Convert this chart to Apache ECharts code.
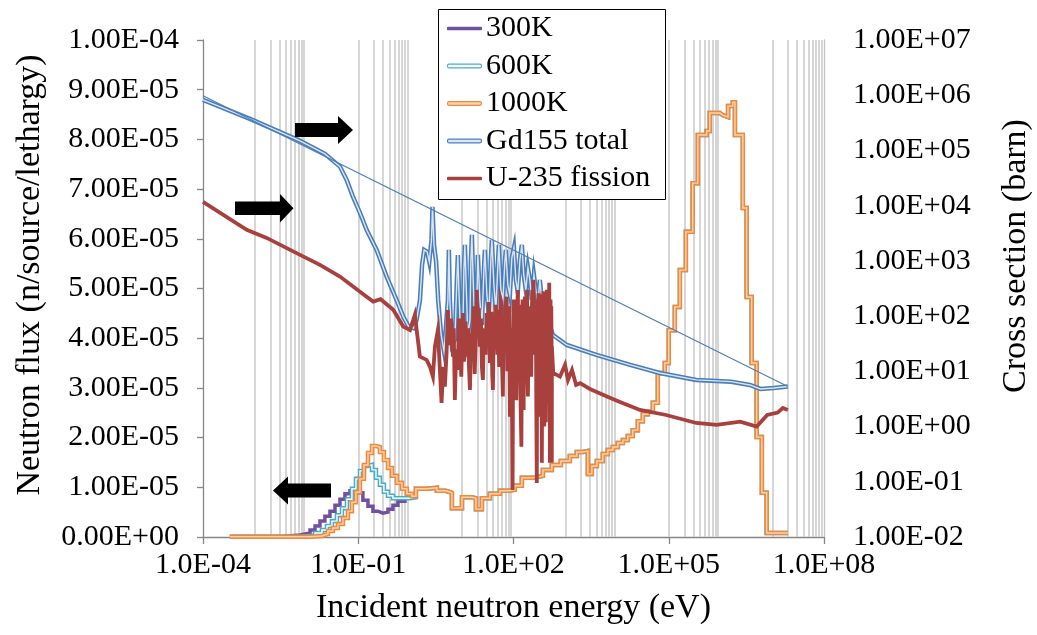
<!DOCTYPE html>
<html>
<head>
<meta charset="utf-8">
<title>Neutron flux and cross sections</title>
<script src="https://cdn.jsdelivr.net/npm/echarts@6/dist/echarts.min.js"></script>
<style>
  html, body { margin: 0; padding: 0; background: #ffffff; }
  #chart { width: 1037px; height: 635px; }
</style>
</head>
<body>
<div id="chart"></div>
<script>
// ---- data ---------------------------------------------------------------
// Group flux per unit lethargy: [lower group energy (eV), flux (n/source/lethargy)]
const flux300KThermal = [
  [3.3e-4, 1e-7], [3.5e-3, 4e-7], [7.5e-3, 8e-7], [1.17e-2, 1.4e-6], [1.46e-2, 2.2e-6],
  [1.82e-2, 3.2e-6], [2.27e-2, 4.2e-6], [2.84e-2, 5.2e-6], [3.55e-2, 6.4e-6], [4.43e-2, 7.6e-6],
  [5.53e-2, 8.7e-6], [6.91e-2, 9.3e-6], [8.63e-2, 9.5e-6], [9.86e-2, 8.9e-6], [0.123, 7.4e-6],
  [0.154, 6.2e-6], [0.192, 5.2e-6], [0.24, 4.8e-6], [0.30, 5.0e-6], [0.375, 5.6e-6],
  [0.468, 6.4e-6], [0.584, 7.2e-6], [0.798, 7.8e-6], [0.996, 8.0e-6]
];
const flux600KThermal = [
  [3.3e-4, 5e-8], [7.5e-3, 3e-7], [1.46e-2, 8e-7], [1.99e-2, 1.4e-6], [2.49e-2, 2.2e-6],
  [3.10e-2, 3.2e-6], [3.88e-2, 4.4e-6], [4.84e-2, 5.8e-6], [6.05e-2, 7.6e-6], [7.55e-2, 9.7e-6],
  [9.02e-2, 1.17e-5], [0.108, 1.33e-5], [0.129, 1.43e-5], [0.154, 1.45e-5], [0.184, 1.35e-5],
  [0.22, 1.19e-5], [0.262, 1.05e-5], [0.313, 9.1e-6], [0.375, 8.3e-6], [0.468, 7.8e-6],
  [0.639, 7.8e-6], [0.996, 8.0e-6]
];
const flux1000KThermal = [
  [3.3e-4, 5e-8], [1.17e-2, 2e-7], [1.99e-2, 6e-7], [2.60e-2, 1.2e-6], [3.24e-2, 1.8e-6],
  [4.05e-2, 2.6e-6], [5.06e-2, 3.8e-6], [6.32e-2, 5.2e-6], [7.55e-2, 7.0e-6], [9.02e-2, 9.0e-6],
  [0.108, 1.17e-5], [0.129, 1.45e-5], [0.154, 1.69e-5], [0.184, 1.83e-5], [0.22, 1.81e-5],
  [0.262, 1.71e-5], [0.313, 1.55e-5], [0.375, 1.39e-5], [0.448, 1.23e-5], [0.559, 1.09e-5],
  [0.698, 9.7e-6], [0.872, 8.7e-6], [1.09, 8.2e-6]
];
// Above ~1 eV the three temperatures give the same group flux
const fluxEpiFast = [
  [1.30, 9.7e-6], [2.12, 9.9e-6], [3.31, 9.3e-6], [4.94, 8.9e-6], [6.45, 5.8e-6],
  [10.1, 8.0e-6], [15.7, 7.8e-6], [18.8, 5.6e-6], [24.5, 7.8e-6], [35.0, 8.7e-6],
  [54.6, 9.3e-6], [78, 9.5e-6], [106, 1.03e-5], [145, 1.19e-5], [237, 1.23e-5],
  [370, 1.35e-5], [551, 1.45e-5], [822, 1.53e-5], [1227, 1.63e-5], [1675, 1.71e-5],
  [2188, 1.73e-5], [2735, 1.27e-5], [3267, 1.43e-5], [4080, 1.53e-5], [5325, 1.67e-5],
  [6650, 1.75e-5], [8310, 1.81e-5], [1.04e4, 1.89e-5], [1.30e4, 1.95e-5], [1.62e4, 2.03e-5],
  [2.02e4, 2.15e-5], [2.53e4, 2.33e-5], [3.16e4, 2.47e-5], [3.94e4, 2.52e-5], [4.93e4, 2.70e-5],
  [6.15e4, 3.30e-5], [8.4e4, 3.50e-5], [1.0e5, 4.16e-5], [1.31e5, 4.63e-5], [1.64e5, 5.37e-5],
  [2.14e5, 6.14e-5], [2.9e5, 7.12e-5], [3.65e5, 8.09e-5], [5.4e5, 8.17e-5], [6.2e5, 8.53e-5],
  [9.7e5, 8.49e-5], [1.1e6, 8.45e-5], [1.4e6, 8.67e-5], [1.73e6, 8.75e-5], [1.9e6, 8.09e-5],
  [2.7e6, 6.62e-5], [3.2e6, 4.83e-5], [4.0e6, 3.50e-5], [5.0e6, 2.01e-5], [6.3e6, 8.9e-6],
  [7.8e6, 8e-7], [2.0e7, 8e-7]
];

// Gd-155 total cross section: [energy (eV), barn]
const gd155Total = [
  [1e-4, 8.26e5], [8.1e-4, 3.73e5], [7.5e-3, 1.49e5], [2.27e-2, 8.67e4], [4.43e-2, 5.1e4],
  [5.97e-2, 2.93e4], [7.89e-2, 1.46e4], [0.108, 7410], [0.145, 3650], [0.227, 1580],
  [0.353, 520], [0.55, 196], [0.74, 98], [0.94, 64.6], [1.18, 60.4],
  [1.34, 85], [1.56, 196], [1.71, 847], [1.88, 1580], [2.15, 1460], [2.36, 960], [2.6, 2400],
  [2.72, 9500], [2.91, 1950], [3.2, 960], [3.5, 196], [4.0, 45.6], [4.56, 22.5],
  [4.94, 22.5], [5.40, 196], [5.64, 1580], [5.90, 196], [6.45, 30], [7.36, 37], [8.05, 453],
  [8.41, 1280], [8.80, 298], [9.62, 37], [10.5, 56], [11.0, 687], [11.5, 1950], [12.0, 557],
  [13.1, 45.6], [14.4, 85], [15.0, 960], [15.7, 2960], [16.4, 687], [17.9, 56], [19.6, 196],
  [20.5, 1280], [22.4, 196], [24.5, 69], [26.8, 687], [28.0, 1580], [30.6, 242], [33.4, 105],
  [36.5, 1040], [38.2, 2400], [41.8, 367], [45.6, 129], [49.9, 847], [52.1, 1950], [57.0, 298],
  [62.3, 196], [68.1, 960], [71.1, 1580], [77.8, 367], [85.1, 242], [92.9, 1130], [102, 1720],
  [111, 453], [121, 274], [133, 1040], [145, 1950], [158, 557], [173, 298], [190, 747],
  [207, 453], [226, 196], [248, 557], [270, 298], [296, 160], [323, 453], [353, 196],
  [404, 129], [461, 85], [577, 45.6],
  [1070, 30], [4000, 19.8], [1.8e4, 13.1], [6.7e4, 9.35], [3.4e5, 7.0], [1.6e6, 6.5],
  [3.7e6, 5.67], [5.9e6, 4.8], [1.07e7, 5.0], [2.0e7, 5.3]
];
// 1/v-like guide through the Gd-155 curve end points
const gd155Guide = [[1e-4, 9.75e5], [2.0e7, 5.3]];

// U-235 fission cross section: [energy (eV), barn]
const u235Fission = [
  [1e-4, 1.17e4], [7e-4, 3650], [1.7e-3, 2610], [7.5e-3, 1285], [1.82e-2, 847], [4.43e-2, 520],
  [0.145, 225], [0.195, 183], [0.27, 202], [0.475, 130], [0.74, 64.6], [1.0, 56],
  [1.24, 105], [1.42, 37], [1.55, 18.5], [2.09, 16.1], [2.42, 12.2], [2.77, 8.0], [3.03, 28],
  [3.46, 56], [3.78, 10.6],
  [4.07, 2.68], [4.4, 12], [4.72, 5.3], [5.09, 21.5], [5.40, 129], [5.65, 30], [5.90, 42.5],
  [6.2, 90], [6.75, 18.5], [7.0, 60], [7.36, 3.03], [7.8, 25], [8.41, 10.6], [8.8, 90],
  [9.2, 37], [9.8, 8], [10.5, 114],
  [11.0, 15], [11.4, 20], [11.9, 80], [12.4, 18.5], [13.3, 60], [13.8, 12], [14.4, 4.6],
  [15.3, 40], [16.4, 56], [17.1, 150], [17.8, 9], [18.6, 35], [19.4, 298], [20.5, 60],
  [21.4, 140], [22.4, 28], [23.5, 90], [24.5, 12], [25.6, 7.0], [26.7, 45], [27.8, 60],
  [29, 20], [30.2, 114], [32, 35], [33.5, 180], [35.0, 14.2], [36.2, 50], [37.5, 120],
  [38.8, 9], [40, 4.6], [41.7, 70], [43.5, 40], [45, 160], [47.1, 85], [49, 20], [51, 130],
  [52.8, 12], [54.6, 28], [56.3, 200], [58, 180], [60, 15], [62.3, 3.5], [64.5, 90], [67, 40],
  [70, 140], [73.5, 225], [76, 10], [79, 30], [82, 150], [85.1, 1.51], [87.5, 40], [90, 60],
  [93, 8], [96, 0.071], [98.5, 60],
  [101, 200], [103.5, 25], [106, 14.2], [109, 120], [113, 3.0], [117, 80], [121, 298],
  [125, 20], [128, 160], [131, 60], [136, 4], [142, 0.43], [146, 90], [150, 200], [153, 20],
  [157, 2], [161, 110], [166, 225], [172, 12], [178, 90], [183, 300], [187, 7], [190, 3.5],
  [196, 60], [205, 150], [212, 30], [220, 8], [226, 120], [232, 300], [238, 20], [244, 453],
  [252, 40], [262, 30], [270, 200], [276, 2], [282, 0.095], [288, 60], [296, 114], [303, 260],
  [310, 12], [318, 1.5], [325, 250], [332, 40], [340, 5], [346, 180], [353, 0.22], [361, 60],
  [370, 150], [378, 280], [385, 20], [394, 1.0], [404, 225], [412, 30], [420, 1.2], [430, 90],
  [440, 300], [450, 25], [461, 225], [470, 2.5], [480, 15], [485, 150], [490, 400], [497, 30],
  [505, 0.22], [512, 100], [520, 200], [525, 12], [530, 3], [537, 150], [545, 28], [550, 0.22],
  [552, 28], [585, 9.35],
  [790, 8.0], [990, 13.1], [1130, 7.0], [1350, 10.6], [1620, 5.67], [1940, 6.1], [3000, 4.8],
  [6400, 3.5], [1.14e4, 2.79], [2.78e4, 2.0], [8.9e4, 1.62], [3.4e5, 1.16], [8.4e5, 1.07],
  [2.4e6, 1.23], [5.0e6, 1.0], [8.0e6, 1.62], [1.27e7, 1.79], [1.6e7, 2.17], [2.0e7, 2.0]
];

// Axis ticks (decade exponents)
const xTickExponents = [-4, -1, 2, 5, 8];
const gridDecades = [-3, -1, 1, 3, 5, 7];

// ---- helpers -------------------------------------------------------------
const FONT = '"Liberation Serif", "Times New Roman", serif';
const log10 = Math.log10;

function sci(v, digits) {
  const [m, ex] = v.toExponential(digits).split('e');
  const n = parseInt(ex, 10);
  return m + 'E' + (n < 0 ? '-' : '+') + String(Math.abs(n)).padStart(2, '0');
}
function decadeLabel(exp, digits) {
  const n = Math.round(exp);
  return (1).toFixed(digits) + 'E' + (n < 0 ? '-' : '+') + String(Math.abs(n)).padStart(2, '0');
}
const fluxPoints = arr => arr.map(([e, v]) => [log10(e), v]);
const xsPoints = arr => arr.map(([e, s]) => [log10(e), log10(s)]);

const gridValues = [];
gridDecades.forEach(k => { for (let n = 1; n <= 9; n++) gridValues.push(log10(n) + k); });

const COLORS = {
  k300: '#7050a0', k600: '#4bacc6', k1000: '#ef8a3c', k1000In: '#fbd3b0',
  gd: '#4a7ebb', gdIn: '#dce6f2', u235: '#a8403d'
};

function line(name, data, color, width, yAxisIndex, step, z) {
  return {
    type: 'line', name, data, yAxisIndex, step: step ? 'end' : false,
    showSymbol: false, symbol: 'none', silent: true, z: z || 2,
    lineStyle: { color, width, join: 'miter' }, itemStyle: { color },
    emphasis: { disabled: true }
  };
}

const series = [
  {
    type: 'line', name: 'gridlines', data: [], silent: true, z: 0,
    markLine: {
      silent: true, z: 1, symbol: ['none', 'none'], label: { show: false },
      lineStyle: { color: '#c8c8c8', width: 1.5, type: 'solid' },
      emphasis: { disabled: true }, animation: false,
      data: gridValues.map(v => ({ xAxis: v }))
    }
  },
  line('300K', fluxPoints(flux300KThermal.concat(fluxEpiFast)), COLORS.k300, 3.5, 0, true, 2),
  line('600K', fluxPoints(flux600KThermal.concat(fluxEpiFast)), COLORS.k600, 4.5, 0, true, 3),
  line('600K inner', fluxPoints(flux600KThermal.concat(fluxEpiFast)), '#ffffff', 1.4, 0, true, 3),
  line('1000K', fluxPoints(flux1000KThermal.concat(fluxEpiFast)), COLORS.k1000, 4.5, 0, true, 4),
  line('1000K inner', fluxPoints(flux1000KThermal.concat(fluxEpiFast)), COLORS.k1000In, 1.4, 0, true, 4),
  line('Gd155 total', xsPoints(gd155Total), COLORS.gd, 4.5, 1, false, 5),
  line('Gd155 inner', xsPoints(gd155Total), COLORS.gdIn, 1.4, 1, false, 5),
  line('Gd155 guide', xsPoints(gd155Guide), COLORS.gd, 1.2, 1, false, 5),
  line('U-235 fission', xsPoints(u235Fission), COLORS.u235, 3.8, 1, false, 6)
];

// Legend keys: solid line or outlined (double) line
const legendKeys = [
  { name: '300K', fill: COLORS.k300, stroke: null },
  { name: '600K', fill: '#ffffff', stroke: COLORS.k600 },
  { name: '1000K', fill: COLORS.k1000In, stroke: COLORS.k1000 },
  { name: 'Gd155 total', fill: COLORS.gdIn, stroke: COLORS.gd },
  { name: 'U-235 fission', fill: COLORS.u235, stroke: null }
];
const legendGraphics = [{
  type: 'rect', z: 20, silent: true,
  shape: { x: 438.5, y: 9.5, width: 227, height: 190 },
  style: { fill: '#ffffff', stroke: '#000000', lineWidth: 1 }
}];
legendKeys.forEach((k, i) => {
  const cy = 28.5 + 37.5 * i;
  legendGraphics.push({
    type: 'rect', z: 21, silent: true,
    shape: k.stroke ? { x: 447.5, y: cy - 1.8, width: 34, height: 3.6, r: 1.5 }
                    : { x: 447, y: cy - 1.8, width: 35, height: 3.6, r: 1 },
    style: k.stroke ? { fill: k.fill, stroke: k.stroke, lineWidth: 1.2 } : { fill: k.fill }
  });
  legendGraphics.push({
    type: 'text', z: 21, silent: true, x: 486, y: cy,
    style: { text: k.name, fill: '#000000', font: '30px ' + FONT,
             align: 'left', verticalAlign: 'middle', textAlign: 'left', textVerticalAlign: 'middle' }
  });
});

const labelStyle = { fontFamily: FONT, fontSize: 30, color: '#000000' };

const option = {
  animation: false,
  backgroundColor: '#ffffff',
  grid: { left: 203, right: 213, top: 40, bottom: 98, containLabel: false },
  xAxis: {
    type: 'value', min: -4, max: 8,
    name: 'Incident neutron energy (eV)', nameLocation: 'middle', nameGap: 54,
    nameTextStyle: { fontFamily: FONT, fontSize: 34, color: '#000000' },
    axisLine: { show: true, onZero: false, lineStyle: { color: '#868686', width: 1.3 } },
    axisTick: { show: true, customValues: xTickExponents, length: 7, lineStyle: { color: '#868686', width: 1.3 } },
    axisLabel: Object.assign({ customValues: xTickExponents, margin: 13, formatter: v => decadeLabel(v, 1) }, labelStyle),
    splitLine: { show: false }
  },
  yAxis: [
    {
      type: 'value', min: 0, max: 1e-4, interval: 1e-5, position: 'left',
      axisLine: { show: true, onZero: false, lineStyle: { color: '#868686', width: 1.3 } },
      axisTick: { show: true, length: 6, lineStyle: { color: '#868686', width: 1.3 } },
      axisLabel: Object.assign({ margin: 24, formatter: v => sci(v, 2) }, labelStyle),
      splitLine: { show: false }
    },
    {
      type: 'value', min: -2, max: 7, interval: 1, position: 'right',
      axisLine: { show: true, onZero: false, lineStyle: { color: '#c4c4c4', width: 1.3 } },
      axisTick: { show: false },
      axisLabel: Object.assign({ margin: 29, formatter: v => decadeLabel(v, 2) }, labelStyle),
      splitLine: { show: false }
    }
  ],
  graphic: [
    // titles of the two value axes
    {
      type: 'text', x: 30, y: 275, rotation: Math.PI / 2, silent: true,
      style: { text: 'Neutron flux (n/source/lethargy)', fill: '#000000', font: '34px ' + FONT,
               align: 'center', verticalAlign: 'middle', textAlign: 'center', textVerticalAlign: 'middle' }
    },
    {
      type: 'text', x: 1016, y: 256, rotation: Math.PI / 2, silent: true,
      style: { text: 'Cross section (barn)', fill: '#000000', font: '34px ' + FONT,
               align: 'center', verticalAlign: 'middle', textAlign: 'center', textVerticalAlign: 'middle' }
    },
    // arrows pointing each group of curves to its axis
    {
      type: 'polygon', silent: true, z: 10,
      shape: { points: [[295, 123], [338, 123], [338, 116], [353, 130], [338, 144], [338, 137], [295, 137]] },
      style: { fill: '#000000' }
    },
    {
      type: 'polygon', silent: true, z: 10,
      shape: { points: [[235, 201.5], [280, 201.5], [280, 194], [293.5, 208.3], [280, 222.5], [280, 215], [235, 215]] },
      style: { fill: '#000000' }
    },
    {
      type: 'polygon', silent: true, z: 10,
      shape: { points: [[331, 483.5], [288, 483.5], [288, 476.5], [273, 490.5], [288, 504.5], [288, 497.5], [331, 497.5]] },
      style: { fill: '#000000' }
    }
  ].concat(legendGraphics),
  series
};

const chart = echarts.init(document.getElementById('chart'), null, { renderer: 'canvas' });
chart.setOption(option);
</script>
</body>
</html>
